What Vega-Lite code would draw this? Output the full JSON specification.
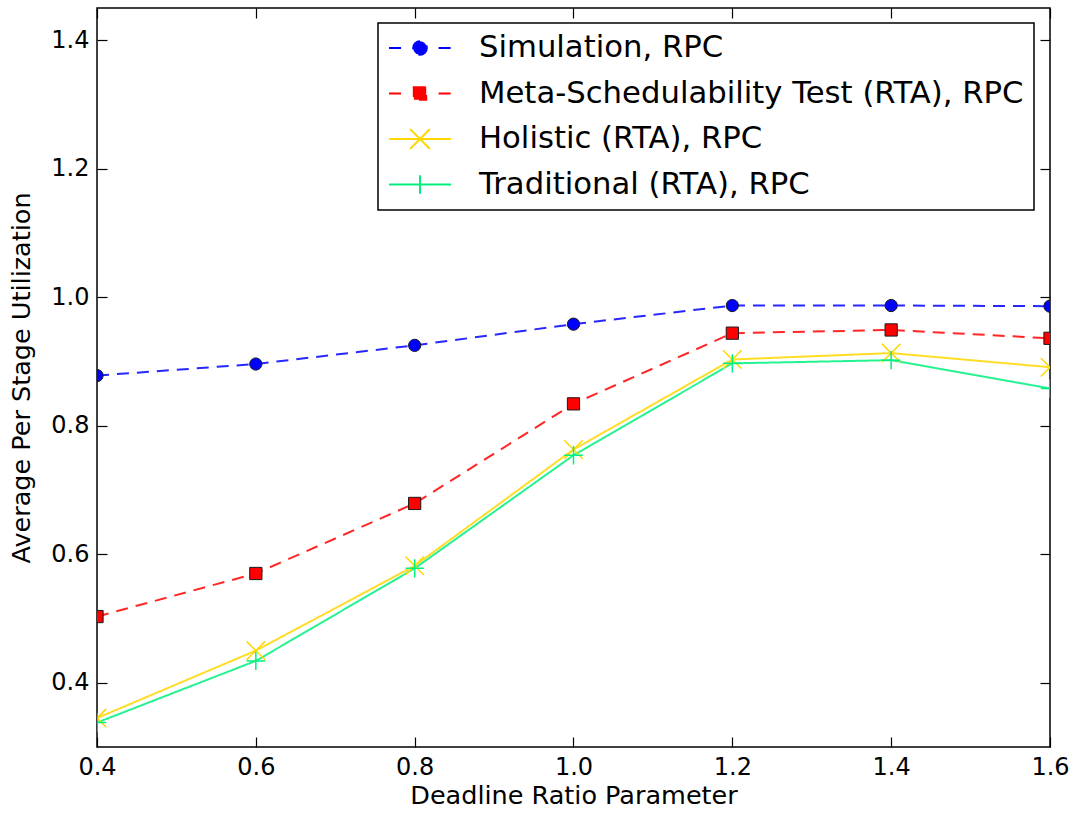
{
  "$schema": "https://vega.github.io/schema/vega-lite/v6.json",
  "autosize": {"type": "none"},
  "width": 953,
  "height": 739,
  "padding": {"left": 97, "top": 8, "right": 26, "bottom": 69},
  "background": "white",
  "config": {
    "font": "DejaVu Sans",
    "view": {"stroke": "black", "strokeWidth": 1.5},
    "axis": {
      "domain": false,
      "grid": false,
      "tickColor": "black",
      "tickWidth": 1.2,
      "tickSize": -10,
      "labelFont": "DejaVu Sans",
      "labelFontSize": 24,
      "labelColor": "black",
      "labelPadding": 18,
      "titleFont": "DejaVu Sans",
      "titleFontSize": 25.5,
      "titleFontWeight": "normal",
      "titleColor": "black"
    }
  },
  "data": {
    "values": [
      {"x": 0.4, "series": "Simulation, RPC", "y": 0.878},
      {"x": 0.6, "series": "Simulation, RPC", "y": 0.896},
      {"x": 0.8, "series": "Simulation, RPC", "y": 0.925},
      {"x": 1.0, "series": "Simulation, RPC", "y": 0.958},
      {"x": 1.2, "series": "Simulation, RPC", "y": 0.987},
      {"x": 1.4, "series": "Simulation, RPC", "y": 0.987},
      {"x": 1.6, "series": "Simulation, RPC", "y": 0.986},
      {"x": 0.4, "series": "Meta-Schedulability Test (RTA), RPC", "y": 0.503},
      {"x": 0.6, "series": "Meta-Schedulability Test (RTA), RPC", "y": 0.570},
      {"x": 0.8, "series": "Meta-Schedulability Test (RTA), RPC", "y": 0.679},
      {"x": 1.0, "series": "Meta-Schedulability Test (RTA), RPC", "y": 0.834},
      {"x": 1.2, "series": "Meta-Schedulability Test (RTA), RPC", "y": 0.944},
      {"x": 1.4, "series": "Meta-Schedulability Test (RTA), RPC", "y": 0.949},
      {"x": 1.6, "series": "Meta-Schedulability Test (RTA), RPC", "y": 0.936},
      {"x": 0.4, "series": "Holistic (RTA), RPC", "y": 0.345},
      {"x": 0.6, "series": "Holistic (RTA), RPC", "y": 0.450},
      {"x": 0.8, "series": "Holistic (RTA), RPC", "y": 0.582},
      {"x": 1.0, "series": "Holistic (RTA), RPC", "y": 0.763},
      {"x": 1.2, "series": "Holistic (RTA), RPC", "y": 0.903},
      {"x": 1.4, "series": "Holistic (RTA), RPC", "y": 0.913},
      {"x": 1.6, "series": "Holistic (RTA), RPC", "y": 0.891},
      {"x": 0.4, "series": "Traditional (RTA), RPC", "y": 0.338},
      {"x": 0.6, "series": "Traditional (RTA), RPC", "y": 0.434},
      {"x": 0.8, "series": "Traditional (RTA), RPC", "y": 0.578},
      {"x": 1.0, "series": "Traditional (RTA), RPC", "y": 0.754},
      {"x": 1.2, "series": "Traditional (RTA), RPC", "y": 0.897},
      {"x": 1.4, "series": "Traditional (RTA), RPC", "y": 0.902},
      {"x": 1.6, "series": "Traditional (RTA), RPC", "y": 0.858}
    ]
  },
  "layer": [
    {
      "mark": {"type": "line", "strokeWidth": 2, "clip": true, "strokeOpacity": 0.85},
      "encoding": {
        "x": {
          "field": "x", "type": "quantitative",
          "scale": {"domain": [0.4, 1.6], "nice": false, "zero": false},
          "axis": {"orient": "bottom", "values": [0.4, 0.6, 0.8, 1.0, 1.2, 1.4, 1.6], "format": ".1f", "title": "Deadline Ratio Parameter", "titlePadding": 4, "labelFlush": false}
        },
        "y": {
          "field": "y", "type": "quantitative",
          "scale": {"domain": [0.3, 1.45], "nice": false, "zero": false},
          "axis": {"orient": "left", "values": [0.4, 0.6, 0.8, 1.0, 1.2, 1.4], "format": ".1f", "title": "Average Per Stage Utilization", "titlePadding": 16}
        },
        "color": {
          "field": "series", "type": "nominal",
          "scale": {
            "domain": ["Simulation, RPC", "Meta-Schedulability Test (RTA), RPC", "Holistic (RTA), RPC", "Traditional (RTA), RPC"],
            "range": ["#0000ff", "#ff0000", "#ffd700", "#00f07f"]
          },
          "legend": {
            "title": null,
            "orient": "none",
            "legendX": 281,
            "legendY": 15,
            "padding": 10,
            "strokeColor": "black",
            "fillColor": "white",
            "cornerRadius": 0,
            "labelFont": "DejaVu Sans",
            "labelFontSize": 30.7,
            "labelColor": "black",
            "labelLimit": 0,
            "labelOffset": 27,
            "symbolSize": 3844,
            "clipHeight": 30,
            "rowPadding": 14.5,
            "encode": {
              "legend": {"update": {"strokeWidth": {"value": 1.5}}},
              "symbols": {
                "update": {
                  "shape": {"signal": "datum.value === 'Simulation, RPC' ? 'M-1,0H-0.6M0.6,0H1M0.22,0A0.22,0.22,0,1,1,-0.22,0A0.22,0.22,0,1,1,0.22,0Z' : datum.value === 'Meta-Schedulability Test (RTA), RPC' ? 'M-1,0H-0.6M0.6,0H1M-0.2,-0.2H0.2V0.2H-0.2Z' : datum.value === 'Holistic (RTA), RPC' ? 'M-1,0H1M-0.32,-0.32L0.32,0.32M-0.32,0.32L0.32,-0.32' : 'M-1,0H1M0,-0.3V0.3'"},
                  "stroke": {"signal": "scale('color', datum.value)"},
                  "fill": {"signal": "(datum.value === 'Holistic (RTA), RPC' || datum.value === 'Traditional (RTA), RPC') ? 'transparent' : scale('color', datum.value)"},
                  "strokeWidth": {"value": 2},
                  "strokeDash": {"value": [1, 0]},
                  "opacity": {"value": 1},
                  "fillOpacity": {"value": 1},
                  "strokeOpacity": {"value": 1}
                }
              }
            }
          }
        },
        "strokeDash": {
          "field": "series", "type": "nominal",
          "scale": {
            "domain": ["Simulation, RPC", "Meta-Schedulability Test (RTA), RPC", "Holistic (RTA), RPC", "Traditional (RTA), RPC"],
            "range": [[12, 8], [12, 8], [1, 0], [1, 0]]
          },
          "legend": null
        }
      }
    },
    {
      "transform": [{"filter": "datum.series === 'Simulation, RPC' || datum.series === 'Meta-Schedulability Test (RTA), RPC'"}],
      "mark": {"type": "point", "filled": true, "clip": true, "stroke": "#1a1a1a", "strokeWidth": 1, "opacity": 1},
      "encoding": {
        "x": {"field": "x", "type": "quantitative", "axis": {"orient": "top", "values": [0.4, 0.6, 0.8, 1.0, 1.2, 1.4, 1.6], "labels": false, "title": null}},
        "y": {"field": "y", "type": "quantitative", "axis": {"orient": "right", "values": [0.4, 0.6, 0.8, 1.0, 1.2, 1.4], "labels": false, "title": null}},
        "fill": {"field": "series", "type": "nominal", "scale": {"domain": ["Simulation, RPC", "Meta-Schedulability Test (RTA), RPC"], "range": ["#0000ff", "#ff0000"]}, "legend": null},
        "shape": {"field": "series", "type": "nominal", "scale": {"domain": ["Simulation, RPC", "Meta-Schedulability Test (RTA), RPC"], "range": ["circle", "square"]}, "legend": null},
        "size": {"field": "series", "type": "nominal", "scale": {"domain": ["Simulation, RPC", "Meta-Schedulability Test (RTA), RPC"], "range": [150, 150]}, "legend": null}
      }
    },
    {
      "transform": [{"filter": "datum.series === 'Holistic (RTA), RPC' || datum.series === 'Traditional (RTA), RPC'"}],
      "mark": {"type": "point", "filled": false, "clip": true, "strokeWidth": 1.5, "opacity": 1},
      "encoding": {
        "x": {"field": "x", "type": "quantitative", "axis": null},
        "y": {"field": "y", "type": "quantitative", "axis": null},
        "stroke": {"field": "series", "type": "nominal", "scale": {"domain": ["Holistic (RTA), RPC", "Traditional (RTA), RPC"], "range": ["#ffd700", "#00f07f"]}, "legend": null},
        "shape": {"field": "series", "type": "nominal", "scale": {"domain": ["Holistic (RTA), RPC", "Traditional (RTA), RPC"], "range": ["M-1,-1L1,1M-1,1L1,-1", "M-1,0H1M0,-1V1"]}, "legend": null},
        "size": {"field": "series", "type": "nominal", "scale": {"domain": ["Holistic (RTA), RPC", "Traditional (RTA), RPC"], "range": [340, 340]}, "legend": null}
      }
    }
  ],
  "resolve": {
    "scale": {"fill": "independent", "shape": "independent", "size": "independent", "stroke": "independent"},
    "axis": {"x": "independent", "y": "independent"}
  }
}
